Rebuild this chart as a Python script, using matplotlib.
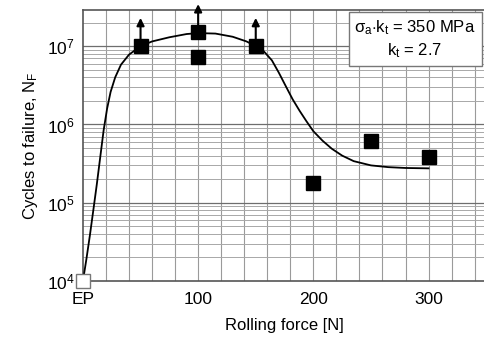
import matplotlib
matplotlib.use('Agg')
import matplotlib.pyplot as plt
import numpy as np

plt.rcParams['font.family'] = ['Liberation Sans', 'DejaVu Sans']
plt.rcParams['mathtext.fontset'] = 'custom'
plt.rcParams['mathtext.rm'] = 'Liberation Sans'
plt.rcParams['mathtext.it'] = 'Liberation Sans'

# --- data ---
force_runout = [50, 100, 150]          # run-outs (arrows)
cycles_runout = [1.0e7, 1.5e7, 1.0e7]
force_fail = [100, 200, 250, 300]
cycles_fail = [7.2e6, 1.8e5, 6.2e5, 3.8e5]
force_ep = [0]
cycles_ep = [1.0e4]

# trend curve
curve_force = [0, 3, 6, 9, 12, 15, 18, 21, 24, 28, 33, 40, 50, 60, 75, 90,
               100, 115, 130, 142, 150, 157, 164, 170, 176, 182, 188, 194,
               200, 208, 216, 225, 235, 250, 265, 280, 300]
curve_cycles = [1.0e4, 1.9e4, 3.8e4, 8.0e4, 1.7e5, 3.8e5, 8.5e5, 1.6e6,
                2.6e6, 4.0e6, 5.8e6, 7.8e6, 1.0e7, 1.15e7, 1.3e7, 1.43e7,
                1.47e7, 1.45e7, 1.32e7, 1.15e7, 1.0e7, 8.6e6, 6.6e6, 4.6e6,
                3.1e6, 2.1e6, 1.5e6, 1.1e6, 8.2e5, 6.2e5, 4.9e5, 4.0e5,
                3.4e5, 3.0e5, 2.85e5, 2.78e5, 2.75e5]

xtick_pos = [0, 100, 200, 300]
xtick_labels = ['EP', '100', '200', '300']

fig = plt.figure(figsize=(4.85, 3.45), dpi=100)
ax = fig.add_axes([0.171, 0.1855, 0.829, 0.7855])
ax.set_yscale('log')
ax.set_xlim(0, 349)
ax.set_ylim(1e4, 2.9e7)

# grid
for xv in np.arange(20, 349, 20):
    ax.axvline(xv, color='#9a9a9a', lw=0.8, zorder=0)
for dec in [1e4, 1e5, 1e6, 1e7]:
    for m in range(1, 10):
        yv = dec * m
        if yv <= 1e4 or yv > 2.9e7:
            continue
        c = '#6e6e6e' if m == 1 else '#a8a8a8'
        ax.axhline(yv, color=c, lw=0.9 if m == 1 else 0.7, zorder=0)

ax.plot(curve_force, curve_cycles, color='black', lw=1.3, zorder=3)
ax.plot(force_runout, cycles_runout, 's', color='black', ms=9.5, zorder=4)
ax.plot(force_fail, cycles_fail, 's', color='black', ms=9.5, zorder=4)
ax.plot(force_ep, cycles_ep, 's', mfc='white', mec='#777777', ms=9.5,
        mew=1, zorder=4, clip_on=False)

for xv, yv in zip(force_runout, cycles_runout):
    ax.annotate('', xy=(xv, yv * 2.3), xytext=(xv, yv),
                arrowprops=dict(arrowstyle='-|>', color='black', lw=1.5,
                                mutation_scale=11, shrinkA=0, shrinkB=0),
                annotation_clip=False, zorder=5)

ax.set_xticks(xtick_pos)
ax.set_xticklabels(xtick_labels)
ax.set_yticks([1e4, 1e5, 1e6, 1e7])
ax.set_yticklabels([r'$10^4$', r'$10^5$', r'$10^6$', r'$10^7$'])
ax.yaxis.set_minor_locator(matplotlib.ticker.NullLocator())
ax.tick_params(axis='both', length=0, labelsize=12.5, pad=6)
ax.tick_params(axis='x', pad=8)
ax.set_xlabel('Rolling force [N]', fontsize=12, labelpad=8)
ax.set_ylabel('Cycles to failure, N$_F$', fontsize=12, labelpad=5)

for s in ['left', 'bottom', 'top']:
    ax.spines[s].set_color('#555555')
    ax.spines[s].set_linewidth(1.2)
ax.spines['right'].set_visible(False)

ax.text(0.826, 0.893, r'$\sigma_a{\cdot}k_t$ = 350 MPa' + '\n' + r'$k_t$ = 2.7',
        transform=ax.transAxes, ha='center', va='center', fontsize=12,
        linespacing=1.3, zorder=6,
        bbox=dict(boxstyle='square,pad=0.35', fc='white', ec='#777777', lw=1))

fig.savefig('out.png', dpi=100)
